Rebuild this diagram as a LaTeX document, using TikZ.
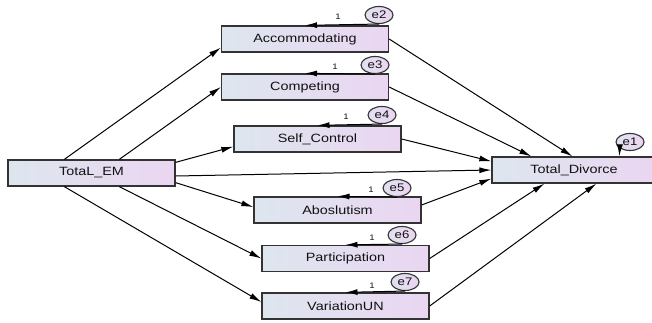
\documentclass[tikz,border=0pt]{standalone}
\usepackage{fontspec}
\newfontfamily\labfont[FakeStretch=1.2]{Liberation Sans}
\usetikzlibrary{arrows.meta,shapes.geometric}
\definecolor{boxL}{HTML}{DDE6EE}
\definecolor{boxR}{HTML}{EAD6F2}
\definecolor{boxLine}{HTML}{333333}
\definecolor{txt}{HTML}{111111}
\tikzset{
  vbox/.style={rectangle, draw=boxLine, line width=1.3pt, left color=boxL, right color=boxR,
    minimum width=167pt, minimum height=26pt, inner sep=0pt,
    font=\labfont\fontsize{12}{14}\selectfont, text=txt},
  errnode/.style={ellipse, draw=boxLine, line width=1.1pt, left color=boxL!60!boxR, right color=boxR,
    minimum width=28pt, minimum height=17pt, inner sep=0pt,
    font=\labfont\fontsize{11}{12}\selectfont, text=txt},
  arr/.style={draw=black, line width=1pt, -{Latex[length=12pt,width=6pt]}},
  one/.style={font=\labfont\fontsize{8}{9}\selectfont, text=txt, inner sep=0pt}
}
\begin{document}
\begin{tikzpicture}[x=1pt,y=-1pt]
\useasboundingbox (0,0) rectangle (652,323);
% observed variables
\node[vbox] (em)   at (91.5,173) {TotaL\_EM};
\node[vbox] (acc)  at (305,39)   {Accommodating};
\node[vbox] (comp) at (305,87)   {Competing};
\node[vbox] (sc)   at (317.5,139){Self\_Control};
\node[vbox] (abs)  at (337.5,210){Aboslutism};
\node[vbox] (part) at (345.5,258.5){Participation};
\node[vbox] (vun)  at (345.5,306){VariationUN};
\node[vbox, minimum width=164pt] (td) at (574,170) {Total\_Divorce};
% error terms
\node[errnode] (e1) at (630,142) {e1};
\node[errnode] (e2) at (379,15)  {e2};
\node[errnode] (e3) at (375,65)  {e3};
\node[errnode] (e4) at (382,115) {e4};
\node[errnode] (e5) at (397,188) {e5};
\node[errnode] (e6) at (402,235) {e6};
\node[errnode] (e7) at (405,282) {e7};
% paths from TotaL_EM
\draw[arr] ([xshift=57pt]em.north west) -- ([yshift=5pt]acc.south west);
\draw[arr] ([xshift=112pt]em.north west) -- (comp.west);
\draw[arr] ([yshift=-3pt]em.north east) -- ([yshift=6pt]sc.south west);
\draw[arr] ([yshift=-3pt]em.east) -- (td.west);
\draw[arr] ([yshift=4pt]em.south east) -- ([yshift=3pt]abs.west);
\draw[arr] ([xshift=112pt]em.south west) -- (part.west);
\draw[arr] ([xshift=57pt]em.south west) -- ([yshift=4pt]vun.west);
% paths to Total_Divorce
\draw[arr] (acc.east)  -- ([xshift=81pt]td.north west);
\draw[arr] (comp.east) -- ([xshift=40pt]td.north west);
\draw[arr] (sc.east)   -- ([yshift=-5pt]td.north west);
\draw[arr] ([yshift=5pt]abs.east) -- ([yshift=5pt]td.south west);
\draw[arr] (part.east) -- ([xshift=53pt]td.south west);
\draw[arr] (vun.east)  -- ([xshift=105pt]td.south west);
% error paths
\draw[arr] (e1.south west) -- ([xshift=128pt]td.north west);
\draw[arr] (e2.south) -- (acc.north);
\draw[arr] (e3.south) -- (comp.north);
\draw[arr] (e4.south) -- (sc.north);
\draw[arr] (e5.south) -- (abs.north);
\draw[arr] (e6.south) -- (part.north);
\draw[arr] (e7.south) -- (vun.north);
% regression weights fixed to 1
\node[one] (w2) at (338,17)  {1};
\node[one] (w3) at (335,67)  {1};
\node[one] (w4) at (346,117) {1};
\node[one] (w5) at (371,190) {1};
\node[one] (w6) at (372,238) {1};
\node[one] (w7) at (372,286) {1};
\end{tikzpicture}
\end{document}
